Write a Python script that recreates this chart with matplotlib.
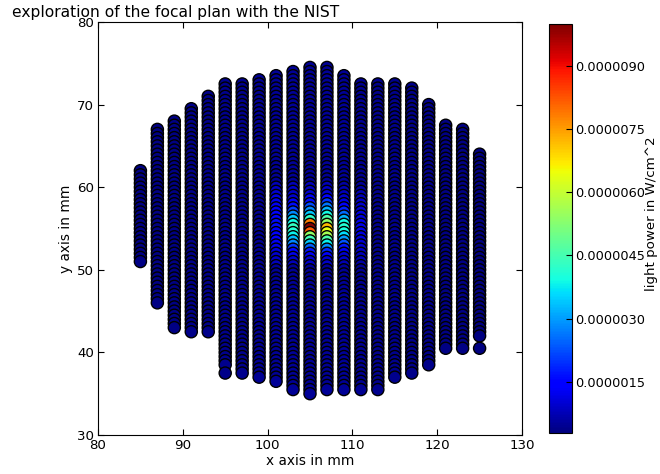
import numpy as np
import matplotlib
matplotlib.use("Agg")
import matplotlib.pyplot as plt

# scan columns (x position in mm) and the y range covered by each column
col_x = [85, 87, 89, 91, 93, 95, 97, 99, 101, 103, 105, 107, 109, 111, 113, 115, 117, 119, 121, 123, 125]
col_ymin = [51.0, 46.0, 43.0, 42.5, 42.5, 38.5, 37.5, 37.0, 36.5, 35.5, 35.0, 35.5, 35.5, 35.5, 35.5, 37.0, 37.5, 38.5, 40.5, 40.5, 42.0]
col_ymax = [62.0, 67.0, 68.0, 69.5, 71.0, 72.5, 72.5, 73.0, 73.5, 74.0, 74.5, 74.5, 73.5, 72.5, 72.5, 72.5, 72.0, 70.0, 67.5, 67.0, 64.0]
y_step = 0.5

# background light level of each column (1e-6 W/cm^2)
col_base = [0.32, 0.34, 0.35, 0.36, 0.38, 0.40, 0.42, 0.45, 0.48, 0.50, 0.50, 0.50, 0.48, 0.45, 0.42, 0.40, 0.38, 0.36, 0.34, 0.32, 0.28]

# isolated points below a few columns
extra_x = [95, 125]
extra_y = [37.5, 40.5]
extra_val = [0.38, 0.30]

# the spot: measured values (1e-6 W/cm^2) near the beam, column -> values along spot_y
spot_y = [60.0, 59.5, 59.0, 58.5, 58.0, 57.5, 57.0, 56.5, 56.0, 55.5, 55.0, 54.5, 54.0, 53.5, 53.0, 52.5, 52.0, 51.5, 51.0, 50.5]
spot_101 = [0.8, 0.9, 1.0, 1.1, 1.2, 1.3, 1.4, 1.5, 1.5, 1.6, 1.6, 1.5, 1.5, 1.4, 1.3, 1.2, 1.1, 1.0, 0.9, 0.8]
spot_103 = [0.8, 0.9, 0.9, 1.0, 1.3, 1.6, 2.1, 2.8, 3.4, 3.9, 4.3, 4.1, 3.8, 3.3, 2.8, 2.0, 1.5, 1.2, 0.9, 0.8]
spot_105 = [0.8, 0.9, 1.0, 1.3, 1.6, 2.2, 2.8, 3.4, 4.2, 7.8, 10.0, 8.2, 5.4, 4.4, 3.4, 2.4, 1.7, 1.3, 1.0, 0.9]
spot_107 = [0.8, 0.9, 1.0, 1.4, 2.0, 2.6, 3.2, 3.9, 4.6, 5.4, 7.2, 6.4, 5.6, 4.6, 3.8, 2.8, 1.9, 1.4, 1.0, 0.9]
spot_109 = [0.6, 0.7, 0.8, 0.9, 1.1, 1.4, 1.8, 2.5, 3.2, 3.9, 4.1, 4.0, 3.6, 3.0, 2.3, 1.7, 1.3, 1.0, 0.9, 0.7]
spot_111 = [0.5, 0.6, 0.7, 0.8, 0.9, 1.0, 1.0, 1.1, 1.1, 1.2, 1.2, 1.2, 1.1, 1.1, 1.0, 1.0, 0.9, 0.8, 0.8, 0.6]
spot_cols = {101: spot_101, 103: spot_103, 105: spot_105, 107: spot_107, 109: spot_109, 111: spot_111}

cbar_ticks = [1.5e-6, 3.0e-6, 4.5e-6, 6.0e-6, 7.5e-6, 9.0e-6]

# build the point list
xs, ys, vals = [], [], []
for i, cx in enumerate(col_x):
    ygrid = np.arange(col_ymax[i], col_ymin[i] - 1e-9, -y_step)
    for yy in ygrid:
        v = col_base[i]
        if cx in spot_cols:
            for sy, sv in zip(spot_y, spot_cols[cx]):
                if abs(sy - yy) < 1e-6:
                    v = sv
        xs.append(cx)
        ys.append(yy)
        vals.append(v)
for ex, ey, ev in zip(extra_x, extra_y, extra_val):
    xs.append(ex)
    ys.append(ey)
    vals.append(ev)
vals = np.array(vals) * 1e-6

plt.rcParams['font.size'] = 9.8
fig = plt.figure(figsize=(6.6, 4.74), dpi=100)
ax = fig.add_axes([98/660, 1 - 435/474, 424/660, 413/474])
sc = ax.scatter(xs, ys, c=vals, cmap='jet', s=76, edgecolors='black', linewidths=1.0,
                vmin=0.28e-6, vmax=1.0e-5)
ax.set_xlim(80, 130)
ax.set_ylim(30, 80)
ax.set_xticks([80, 90, 100, 110, 120, 130])
ax.set_yticks([30, 40, 50, 60, 70, 80])
ax.tick_params(direction='in', top=True, right=True, length=4, width=0.8, pad=3, labelsize=9.6)
for sp in ax.spines.values():
    sp.set_linewidth(0.8)
ax.set_xlabel("x axis in mm", labelpad=1)
ax.set_ylabel("y axis in mm", labelpad=3)

fig.text(12/660, 1 - 13/474, "exploration of the focal plan with the NIST", fontsize=11.2,
         ha='left', va='center')

cax = fig.add_axes([549/660, 1 - 433/474, 23/660, 409/474])
cb = fig.colorbar(sc, cax=cax, ticks=cbar_ticks, format='%.7f')
cb.outline.set_linewidth(0.8)
cax.tick_params(length=4, width=0.8, direction='in', pad=2, labelsize=9.3)
fig.text(652/660, 1 - 214/474, "light power in W/cm^2", rotation=90,
         ha='center', va='center', fontsize=9.6)

plt.savefig("out.png", dpi=100)
